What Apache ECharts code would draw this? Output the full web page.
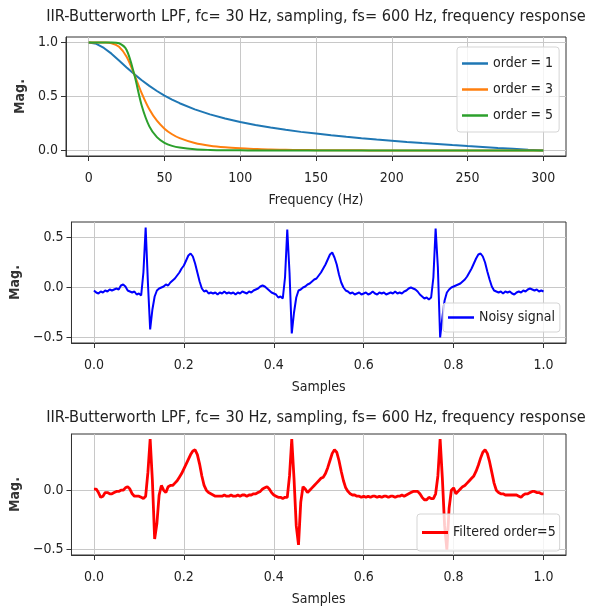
<!DOCTYPE html>
<html>
<head>
<meta charset="utf-8">
<script src="https://cdn.jsdelivr.net/npm/echarts@6/dist/echarts.min.js"></script>
<style>
html,body{margin:0;padding:0;background:#fff;}
#chart{width:597px;height:610px;}
</style>
</head>
<body>
<div id="chart"></div>
<script>
// ---- Data ----
const titleText = 'IIR-Butterworth LPF, fc= 30 Hz, sampling, fs= 600 Hz, frequency response';
const freqHz = [0,5,10,15,20,25,30,35,40,45,50,55,60,70,80,90,100,110,120,130,140,150,160,170,180,190,200,210,220,230,240,250,260,270,280,290,300];
const magOrder1 = [1.000,0.987,0.949,0.896,0.833,0.769,0.707,0.650,0.598,0.551,0.509,0.472,0.438,0.381,0.335,0.297,0.265,0.237,0.213,0.192,0.173,0.157,0.141,0.127,0.114,0.102,0.091,0.080,0.070,0.061,0.051,0.042,0.034,0.025,0.017,0.008,0.000];
const magOrder3 = [1.000,1.000,0.999,0.993,0.960,0.867,0.707,0.529,0.382,0.276,0.203,0.151,0.115,0.070,0.045,0.030,0.021,0.015,0.010,0.008,0.005,0.004,0.003,0.002,0.002,0.001,0.001,0.001,0.000,0.000,0.000,0.000,0.000,0.000,0.000,0.000,0.000];
const magOrder5 = [1.000,1.000,1.000,1.000,0.992,0.930,0.707,0.415,0.224,0.124,0.072,0.044,0.028,0.012,0.006,0.003,0.002,0.001,0.000,0.000,0.000,0.000,0.000,0.000,0.000,0.000,0.000,0.000,0.000,0.000,0.000,0.000,0.000,0.000,0.000,0.000,0.000];

const sampleStep = 0.005; // samples at 0, 0.005, ..., 1.0
const noisySignal = [
-0.03,-0.05,-0.06,-0.04,-0.05,-0.03,-0.04,-0.02,-0.03,-0.02,-0.01,-0.02,0.02,0.03,0.01,-0.03,-0.04,-0.05,-0.04,-0.07,
-0.06,-0.08,0.15,0.60,0.05,-0.42,-0.22,-0.09,-0.03,-0.01,0.00,0.01,0.03,0.02,0.05,0.07,0.09,0.12,0.15,0.19,
0.22,0.27,0.32,0.34,0.31,0.24,0.15,0.06,-0.01,-0.04,-0.03,-0.06,-0.05,-0.06,-0.05,-0.07,-0.05,-0.06,-0.04,-0.06,
-0.05,-0.06,-0.05,-0.07,-0.05,-0.06,-0.04,-0.05,-0.06,-0.04,-0.05,-0.03,-0.02,-0.01,0.01,0.02,0.01,-0.01,-0.03,-0.05,
-0.06,-0.07,-0.10,-0.09,-0.11,0.10,0.58,0.15,-0.46,-0.25,-0.10,-0.03,-0.02,0.00,0.01,0.03,0.04,0.06,0.08,0.09,
0.12,0.15,0.19,0.23,0.28,0.33,0.35,0.30,0.23,0.13,0.05,0.00,-0.03,-0.04,-0.06,-0.05,-0.07,-0.06,-0.05,-0.07,
-0.06,-0.05,-0.07,-0.06,-0.04,-0.06,-0.07,-0.05,-0.06,-0.05,-0.07,-0.06,-0.05,-0.06,-0.04,-0.06,-0.05,-0.06,-0.04,-0.03,
-0.01,0.00,-0.01,-0.02,-0.04,-0.07,-0.09,-0.11,-0.10,-0.12,-0.10,0.10,0.59,0.20,-0.50,-0.30,-0.13,-0.05,-0.02,0.00,
0.01,0.02,0.03,0.04,0.06,0.08,0.11,0.15,0.19,0.24,0.29,0.33,0.34,0.31,0.25,0.16,0.08,0.01,-0.03,-0.04,
-0.05,-0.04,-0.06,-0.04,-0.05,-0.04,-0.06,-0.07,-0.05,-0.04,-0.05,-0.03,-0.04,-0.02,-0.01,-0.02,-0.03,-0.02,-0.04,-0.03,-0.04
];
const filteredSignal = [
0.01,0.01,-0.02,-0.06,-0.05,-0.02,-0.02,-0.03,-0.03,-0.02,-0.01,-0.01,0.00,0.00,0.02,0.03,0.01,-0.03,-0.05,-0.05,
-0.05,-0.06,-0.07,-0.05,0.15,0.43,0.08,-0.41,-0.28,-0.04,0.04,0.00,-0.02,0.03,0.04,0.04,0.06,0.08,0.11,0.14,
0.18,0.22,0.26,0.30,0.33,0.34,0.30,0.22,0.12,0.04,0.00,-0.02,-0.03,-0.04,-0.05,-0.05,-0.05,-0.05,-0.04,-0.05,
-0.05,-0.04,-0.05,-0.05,-0.04,-0.05,-0.04,-0.04,-0.05,-0.04,-0.04,-0.03,-0.03,-0.02,-0.01,0.01,0.02,0.03,0.01,-0.02,
-0.04,-0.05,-0.06,-0.06,-0.07,-0.06,-0.06,0.12,0.43,0.10,-0.30,-0.46,-0.10,0.03,0.01,-0.02,0.00,0.02,0.04,0.06,
0.08,0.10,0.11,0.14,0.19,0.25,0.31,0.34,0.32,0.25,0.16,0.08,0.02,-0.01,-0.03,-0.04,-0.04,-0.05,-0.05,-0.06,
-0.05,-0.06,-0.05,-0.06,-0.05,-0.05,-0.06,-0.05,-0.06,-0.05,-0.05,-0.06,-0.05,-0.05,-0.06,-0.05,-0.05,-0.04,-0.05,-0.04,
-0.03,-0.02,-0.01,-0.01,-0.01,-0.03,-0.06,-0.08,-0.08,-0.06,-0.07,-0.07,-0.03,0.12,0.43,0.10,-0.30,-0.50,-0.15,0.00,
0.02,-0.03,-0.01,0.01,0.03,0.04,0.06,0.08,0.10,0.12,0.16,0.21,0.27,0.32,0.34,0.31,0.24,0.15,0.06,0.00,
-0.02,-0.03,-0.03,-0.04,-0.04,-0.04,-0.04,-0.04,-0.04,-0.05,-0.06,-0.04,-0.03,-0.03,-0.02,-0.01,-0.01,-0.02,-0.02,-0.03,-0.03
];

const freqTicks = [0,50,100,150,200,250,300];
const sampleTicks = [0,0.2,0.4,0.6,0.8,1.0];
const magTicksTop = [0,0.5,1.0];
const magTicksMid = [-0.5,0,0.5];
const magTicksBot = [-0.5,0];

// ---- Styling ----
const FONT = "'DejaVu Sans Condensed','DejaVu Sans',sans-serif";
const TXT = '#222';
const fmt1 = v => (v < 0 ? '\u2212' + Math.abs(v).toFixed(1) : v.toFixed(1));

function xAx(gi, min, max, ticks, fmt, name) {
  return {
    gridIndex: gi, type: 'value', min: min, max: max,
    name: name, nameLocation: 'middle', nameGap: 37,
    nameTextStyle: {fontFamily: FONT, fontSize: 14, color: TXT},
    axisLine: {show: true, onZero: false, lineStyle: {color: '#333', width: 1}},
    axisTick: {show: true, length: 5, customValues: ticks, lineStyle: {color: '#333'}},
    axisLabel: {customValues: ticks, formatter: fmt, margin: 15, fontFamily: FONT, fontSize: 14, color: TXT},
    splitLine: {show: true, lineStyle: {color: '#c8c8c8', width: 1}}
  };
}
function yAx(gi, min, max, ticks, gap) {
  return {
    gridIndex: gi, type: 'value', min: min, max: max,
    name: 'Mag.', nameLocation: 'middle', nameGap: gap, nameRotate: 90,
    nameTextStyle: {fontFamily: FONT, fontSize: 14, fontWeight: 'bold', color: '#333'},
    axisLine: {show: true, onZero: false, lineStyle: {color: '#333', width: 1}},
    axisTick: {show: true, length: 5, customValues: ticks, lineStyle: {color: '#333'}},
    axisLabel: {customValues: ticks, formatter: fmt1, margin: 8, fontFamily: FONT, fontSize: 14, color: TXT},
    splitLine: {show: true, lineStyle: {color: '#c8c8c8', width: 1}}
  };
}
const legendBase = {
  orient: 'vertical',
  icon: 'rect',
  backgroundColor: 'rgba(255,255,255,0.8)',
  borderColor: '#d5d5d5', borderWidth: 1, borderRadius: 3,
  itemWidth: 26, itemHeight: 2.5, itemGap: 9, itemTextGap: 10,
  textStyle: {fontFamily: FONT, fontSize: 14, color: TXT, lineHeight: 17},
  selectedMode: false
};

const samples = noisySignal.map((_, i) => +(i * sampleStep).toFixed(3));

const chart = echarts.init(document.getElementById('chart'), null, {renderer: 'canvas'});
chart.setOption({
  animation: false,
  backgroundColor: '#fff',
  title: [
    {text: titleText, left: 316, top: 9, textAlign: 'center', padding: 0,
     textStyle: {fontFamily: FONT, fontSize: 16.2, fontWeight: 'normal', color: TXT}},
    {text: titleText, left: 316, top: 410, textAlign: 'center', padding: 0,
     textStyle: {fontFamily: FONT, fontSize: 16.2, fontWeight: 'normal', color: TXT}}
  ],
  grid: [
    {left: 66, top: 37, width: 500, height: 119, show: true, borderColor: '#333', borderWidth: 1, containLabel: false},
    {left: 66, top: 222, width: 500, height: 121, show: true, borderColor: '#333', borderWidth: 1, containLabel: false},
    {left: 66, top: 434, width: 500, height: 121, show: true, borderColor: '#333', borderWidth: 1, containLabel: false}
  ],
  xAxis: [
    xAx(0, -15, 315, freqTicks, v => String(v), 'Frequency (Hz)'),
    xAx(1, -0.05, 1.05, sampleTicks, fmt1, 'Samples'),
    xAx(2, -0.05, 1.05, sampleTicks, fmt1, 'Samples')
  ],
  yAxis: [
    yAx(0, -0.05, 1.05, magTicksTop, 24),
    yAx(1, -0.555, 0.655, magTicksMid, 34),
    yAx(2, -0.545, 0.473, magTicksBot, 34)
  ],
  legend: [
    Object.assign({}, legendBase, {data: ['order = 1', 'order = 3', 'order = 5'], left: 457, top: 47, padding: [8, 6, 8, 5]}),
    Object.assign({}, legendBase, {data: ['Noisy signal'], left: 443, top: 303, padding: [6, 5, 6, 5]}),
    Object.assign({}, legendBase, {data: ['Filtered order=5'], left: 417, top: 514, itemHeight: 3, padding: [10, 4, 10, 5]})
  ],
  series: [
    {name: 'order = 1', type: 'line', xAxisIndex: 0, yAxisIndex: 0, symbol: 'none', smooth: false,
     lineStyle: {color: '#1f77b4', width: 2}, itemStyle: {color: '#1f77b4'},
     data: freqHz.map((f, i) => [f, magOrder1[i]])},
    {name: 'order = 3', type: 'line', xAxisIndex: 0, yAxisIndex: 0, symbol: 'none', smooth: 0.3,
     lineStyle: {color: '#ff7f0e', width: 2}, itemStyle: {color: '#ff7f0e'},
     data: freqHz.map((f, i) => [f, magOrder3[i]])},
    {name: 'order = 5', type: 'line', xAxisIndex: 0, yAxisIndex: 0, symbol: 'none', smooth: 0.3,
     lineStyle: {color: '#2ca02c', width: 2}, itemStyle: {color: '#2ca02c'},
     data: freqHz.map((f, i) => [f, magOrder5[i]])},
    {name: 'Noisy signal', type: 'line', xAxisIndex: 1, yAxisIndex: 1, symbol: 'none',
     lineStyle: {color: '#0000ff', width: 2}, itemStyle: {color: '#0000ff'},
     data: samples.map((t, i) => [t, noisySignal[i]])},
    {name: 'Filtered order=5', type: 'line', xAxisIndex: 2, yAxisIndex: 2, symbol: 'none',
     lineStyle: {color: '#ff0000', width: 2.8}, itemStyle: {color: '#ff0000'},
     data: samples.map((t, i) => [t, filteredSignal[i]])}
  ]
});
</script>
</body>
</html>
